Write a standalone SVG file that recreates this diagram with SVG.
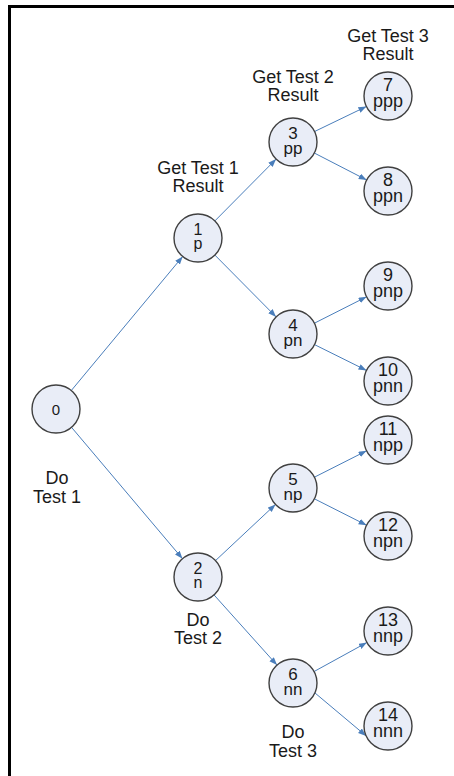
<svg xmlns="http://www.w3.org/2000/svg" width="454" height="776" viewBox="0 0 454 776">
<defs>
<marker id="arr" markerUnits="userSpaceOnUse" markerWidth="9" markerHeight="7" refX="8" refY="3" orient="auto">
<path d="M0,0 L8,3 L0,6 z" fill="#4a7ebb"/>
</marker>
<style>
.n circle{fill:#e9edf7;stroke:#404040;stroke-width:1.4}
.n text{font-family:"Liberation Sans",Arial,sans-serif;fill:#1a1a1a;text-anchor:middle}
.l1 text{font-size:16px}
.l2 text{font-size:17px}
.l3 text{font-size:18px}
.lbl{font-family:"Liberation Sans",Arial,sans-serif;font-size:18px;fill:#1a1a1a;text-anchor:middle}
#edges line{stroke:#4a7ebb;stroke-width:1;marker-end:url(#arr)}
</style>
</defs>
<rect x="0" y="0" width="454" height="776" fill="#ffffff"/>
<rect x="9.5" y="6.5" width="460" height="800" fill="none" stroke="#000000" stroke-width="3"/>
<g id="edges">
<line x1="71.3" y1="390.5" x2="182.7" y2="256.5"/>
<line x1="71.5" y1="427.3" x2="182.5" y2="558.7"/>
<line x1="214.9" y1="220.9" x2="276.1" y2="159.1"/>
<line x1="214.9" y1="255.1" x2="276.1" y2="316.9"/>
<line x1="215.5" y1="560.6" x2="275.5" y2="504.4"/>
<line x1="214.0" y1="594.9" x2="277.0" y2="665.1"/>
<line x1="314.6" y1="131.5" x2="366.4" y2="106.5"/>
<line x1="314.3" y1="153.0" x2="366.7" y2="180.0"/>
<line x1="314.4" y1="323.2" x2="366.6" y2="296.8"/>
<line x1="314.5" y1="344.6" x2="366.5" y2="370.4"/>
<line x1="314.4" y1="477.2" x2="366.6" y2="450.8"/>
<line x1="314.4" y1="498.8" x2="366.6" y2="525.2"/>
<line x1="314.1" y1="671.5" x2="366.9" y2="642.5"/>
<line x1="314.9" y1="692.9" x2="366.1" y2="735.9"/>
</g>
<g id="node0" class="n"><circle cx="56" cy="409" r="24"/><text x="56" y="414.5" style="font-size:15px">0</text></g>
<g id="node1" class="n l1"><circle cx="198" cy="238" r="24"/><text x="198" y="235">1</text><text x="198" y="249">p</text></g>
<g id="node2" class="n l1"><circle cx="198" cy="577" r="24"/><text x="198" y="574">2</text><text x="198" y="588">n</text></g>
<g id="node3" class="n l2"><circle cx="293" cy="142" r="24"/><text x="293" y="139">3</text><text x="293" y="154">pp</text></g>
<g id="node4" class="n l2"><circle cx="293" cy="334" r="24"/><text x="293" y="331">4</text><text x="293" y="346">pn</text></g>
<g id="node5" class="n l2"><circle cx="293" cy="488" r="24"/><text x="293" y="485">5</text><text x="293" y="500">np</text></g>
<g id="node6" class="n l2"><circle cx="293" cy="683" r="24"/><text x="293" y="680">6</text><text x="293" y="695">nn</text></g>
<g id="node7" class="n l3"><circle cx="388" cy="96" r="24"/><text x="388" y="91">7</text><text x="388" y="107">ppp</text></g>
<g id="node8" class="n l3"><circle cx="388" cy="191" r="24"/><text x="388" y="186">8</text><text x="388" y="202">ppn</text></g>
<g id="node9" class="n l3"><circle cx="388" cy="286" r="24"/><text x="388" y="281">9</text><text x="388" y="297">pnp</text></g>
<g id="node10" class="n l3"><circle cx="388" cy="381" r="24"/><text x="388" y="376">10</text><text x="388" y="392">pnn</text></g>
<g id="node11" class="n l3"><circle cx="388" cy="440" r="24"/><text x="388" y="435">11</text><text x="388" y="451">npp</text></g>
<g id="node12" class="n l3"><circle cx="388" cy="536" r="24"/><text x="388" y="531">12</text><text x="388" y="547">npn</text></g>
<g id="node13" class="n l3"><circle cx="388" cy="631" r="24"/><text x="388" y="626">13</text><text x="388" y="642">nnp</text></g>
<g id="node14" class="n l3"><circle cx="388" cy="726" r="24"/><text x="388" y="721">14</text><text x="388" y="737">nnn</text></g>
<g id="labels">
<text class="lbl" x="388" y="42">Get Test 3</text><text class="lbl" x="388" y="60">Result</text>
<text class="lbl" x="293" y="83">Get Test 2</text><text class="lbl" x="293" y="101">Result</text>
<text class="lbl" x="198" y="174">Get Test 1</text><text class="lbl" x="198" y="192">Result</text>
<text class="lbl" x="57" y="484">Do</text><text class="lbl" x="57" y="503">Test 1</text>
<text class="lbl" x="198" y="626">Do</text><text class="lbl" x="198" y="644">Test 2</text>
<text class="lbl" x="293" y="738">Do</text><text class="lbl" x="293" y="757">Test 3</text>
</g>
</svg>
